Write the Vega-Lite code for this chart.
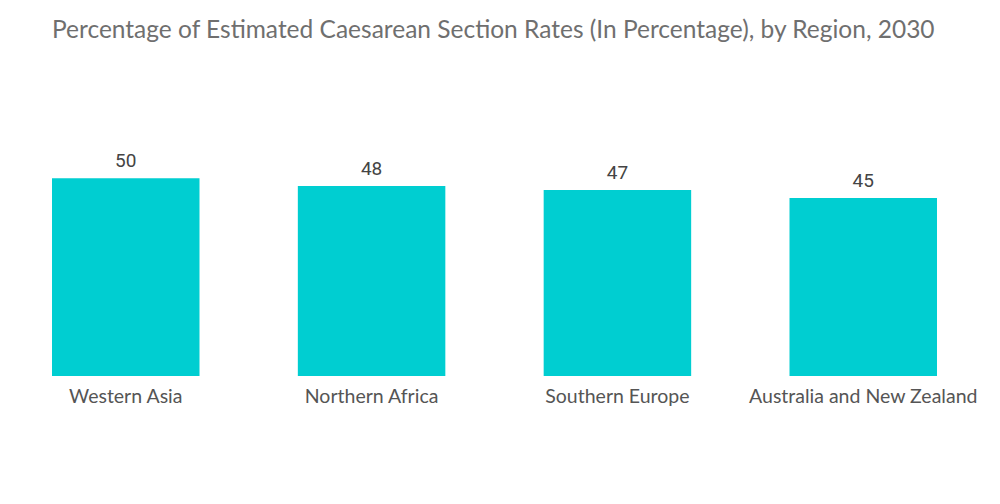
{
  "$schema": "https://vega.github.io/schema/vega-lite/v6.json",
  "width": 885,
  "height": 277,
  "autosize": "none",
  "padding": {"left": 52, "top": 99, "right": 63, "bottom": 128},
  "background": "white",
  "title": {
    "text": "Percentage of Estimated Caesarean Section Rates (In Percentage), by Region, 2030",
    "anchor": "start",
    "font": "Lato",
    "fontSize": 24.5,
    "fontWeight": "normal",
    "color": "#6f6f6f",
    "offset": 44,
    "baseline": "middle"
  },
  "data": {
    "values": [
      {"region": "Western Asia", "value": 50},
      {"region": "Northern Africa", "value": 48},
      {"region": "Southern Europe", "value": 47},
      {"region": "Australia and New Zealand", "value": 45}
    ]
  },
  "encoding": {
    "x": {
      "field": "region",
      "type": "nominal",
      "sort": null,
      "scale": {"paddingInner": 0.4, "paddingOuter": 0},
      "axis": {
        "title": null,
        "labelAngle": 0,
        "labelFont": "Lato",
        "labelFontSize": 19.5,
        "labelColor": "#555555",
        "labelPadding": 11,
        "labelLimit": 0,
        "ticks": false,
        "domain": false
      }
    },
    "y": {
      "field": "value",
      "type": "quantitative",
      "scale": {"domain": [0, 70]},
      "axis": null
    }
  },
  "layer": [
    {"mark": {"type": "bar", "color": "#00CED1"}},
    {
      "mark": {"type": "text", "dy": -17, "font": "Roboto", "fontSize": 19, "color": "#444444"},
      "encoding": {"text": {"field": "value", "type": "quantitative"}}
    }
  ],
  "config": {"view": {"stroke": null}}
}
